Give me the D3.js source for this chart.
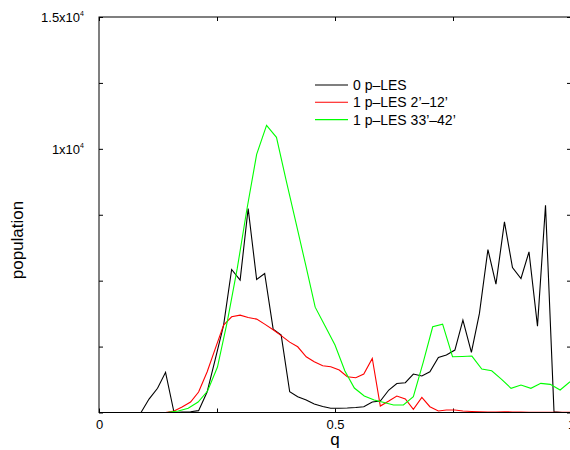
<!DOCTYPE html>
<html>
<head>
<meta charset="utf-8">
<script src="https://cdn.jsdelivr.net/npm/d3@7"></script>
<style>
    body { margin: 0; background: #fff; }
    svg text { font-family: "Liberation Sans", Arial, sans-serif; }
</style>
</head>
<body>
<div id="chart"></div>
<script>

// q bins shared by the 0 p-LES and 1 p-LES 2'-12' runs
const qBins = [0.001, 0.019, 0.036, 0.054, 0.071, 0.089, 0.106, 0.124, 0.141, 0.159,
    0.176, 0.194, 0.211, 0.229, 0.246, 0.264, 0.281, 0.299, 0.316, 0.334,
    0.351, 0.369, 0.386, 0.404, 0.421, 0.439, 0.456, 0.474, 0.491, 0.509,
    0.526, 0.544, 0.561, 0.579, 0.596, 0.614, 0.631, 0.649, 0.666, 0.684,
    0.701, 0.719, 0.736, 0.754, 0.771, 0.789, 0.806, 0.824, 0.841, 0.859,
    0.876, 0.894, 0.911, 0.929, 0.946, 0.964, 0.981, 0.999];

const pop0 = [0, 0, 0, 0, 0, 0, 510, 917, 1523, 0,
    20, 30, 70, 777, 2000, 3314, 5424, 5019, 7735, 5045,
    5273, 3163, 2936, 788, 598, 473, 322, 227, 159, 159,
    170, 189, 220, 398, 436, 852, 1098, 1129, 1458, 1383,
    1545, 2091, 2178, 2367, 3504, 2280, 3758, 6182, 4867, 7227,
    5500, 5083, 6091, 3277, 7860, 30, 0, 0];

const pop2to12 = [0, 0, 0, 0, 0, 0, 0, 0, 0, 60,
    208, 398, 777, 1534, 2405, 3314, 3629, 3693, 3606, 3542,
    3352, 3136, 2917, 2670, 2492, 2114, 1924, 1773, 1735, 1610,
    1356, 1318, 1458, 2053, 246, 436, 625, 511, 121, 576,
    220, 57, 95, 95, 57, 40, 30, 20, 20, 30,
    20, 20, 10, 10, 10, 10, 10, 10];

// the 33'-42' run uses coarser bins
const qGreen = [0.002, 0.023, 0.044, 0.064, 0.085, 0.106, 0.127, 0.147, 0.168, 0.189,
    0.210, 0.230, 0.251, 0.272, 0.293, 0.313, 0.334, 0.355, 0.376, 0.396,
    0.417, 0.438, 0.458, 0.479, 0.500, 0.521, 0.541, 0.562, 0.583, 0.604,
    0.624, 0.645, 0.666, 0.687, 0.707, 0.728, 0.749, 0.770, 0.790, 0.811,
    0.832, 0.853, 0.873, 0.894, 0.915, 0.936, 0.956, 0.977, 0.998];

const pop33to42 = [0, 0, 0, 0, 0, 0, 0, 10, 57, 159,
    398, 814, 1723, 3466, 5473, 7670, 9792, 10890, 10436, 8845,
    7216, 5587, 3996, 3277, 2557, 1572, 928, 625, 473, 379,
    284, 284, 598, 1913, 3250, 3352, 2114, 2125, 2140, 1648,
    1583, 1258, 917, 1042, 917, 1106, 1068, 852, 1167];

const seriesNames = ["0 p\u2013LES", "1 p\u2013LES 2\u2019\u201312\u2019", "1 p\u2013LES 33\u2019\u201342\u2019"];
const seriesColors = ["#000000", "#ff0000", "#00ff00"];

const xTicks = [0, 0.25, 0.5, 0.75, 1];
const xTickLabels = {0: "0", 0.5: "0.5", 1: "1"};
const yTicks = [0, 2500, 5000, 7500, 10000, 12500, 15000];
const yTickLabels = {10000: ["1x10", "4"], 15000: ["1.5x10", "4"]};


class PopulationVis {

    constructor(parentElement) {
        this.parentElement = parentElement;
        this.initVis();
    }

    initVis() {
        let vis = this;

        vis.width = 570;
        vis.height = 450;
        vis.left = 99;
        vis.right = 571;
        vis.top = 17;
        vis.bottom = 412.5;

        vis.svg = d3.select("#" + vis.parentElement)
            .append("svg")
            .attr("width", vis.width)
            .attr("height", vis.height);

        // scales
        vis.x = d3.scaleLinear().domain([0, 1]).range([vis.left, vis.right]);
        vis.y = d3.scaleLinear().domain([0, 15000]).range([vis.bottom, vis.top]);

        vis.wrangleData();
    }

    wrangleData() {
        let vis = this;

        // pair q with population for each run
        vis.series = [
            qBins.map((q, i) => [q, pop0[i]]),
            qBins.map((q, i) => [q, pop2to12[i]]),
            qGreen.map((q, i) => [q, pop33to42[i]])
        ];

        vis.updateVis();
    }

    updateVis() {
        let vis = this;

        // bottom + top ticks (inward)
        let xAxisBottom = d3.axisBottom(vis.x).tickValues(xTicks)
            .tickSizeInner(-4).tickSizeOuter(0).tickPadding(7)
            .tickFormat(d => xTickLabels[d] !== undefined ? xTickLabels[d] : "");
        let xAxisTop = d3.axisTop(vis.x).tickValues(xTicks)
            .tickSizeInner(-4).tickSizeOuter(0).tickFormat("");

        vis.svg.append("g")
            .attr("class", "x-axis")
            .attr("transform", `translate(0,${vis.bottom})`)
            .call(xAxisBottom);

        vis.svg.append("g")
            .attr("transform", `translate(0,${vis.top})`)
            .call(xAxisTop);

        // left + right ticks (inward)
        let yAxisLeft = d3.axisLeft(vis.y).tickValues(yTicks)
            .tickSizeInner(-4).tickSizeOuter(0).tickFormat("");
        let yAxisRight = d3.axisRight(vis.y).tickValues(yTicks)
            .tickSizeInner(-4).tickSizeOuter(0).tickFormat("");

        vis.svg.append("g")
            .attr("transform", `translate(${vis.left},0)`)
            .call(yAxisLeft);

        vis.svg.append("g")
            .attr("transform", `translate(${vis.right},0)`)
            .call(yAxisRight);

        vis.svg.selectAll(".domain").remove();
        vis.svg.selectAll(".tick line").attr("stroke", "#000");

        vis.svg.select(".x-axis").selectAll("text")
            .attr("font-size", "13px")
            .attr("fill", "#000")
            .attr("font-family", "Liberation Sans, Arial, sans-serif");

        // y tick labels with superscript exponent
        let yLabels = vis.svg.append("g")
            .selectAll(".y-label")
            .data(Object.keys(yTickLabels).map(Number))
            .join("text")
            .attr("class", "y-label")
            .attr("x", vis.left - 15)
            .attr("y", d => vis.y(d) + 5)
            .attr("text-anchor", "end")
            .attr("font-size", "13px");

        yLabels.append("tspan").text(d => yTickLabels[d][0]);
        yLabels.append("tspan")
            .attr("font-size", "7px")
            .attr("dy", -6)
            .text(d => yTickLabels[d][1]);

        // data lines
        let line = d3.line()
            .x(d => vis.x(d[0]))
            .y(d => vis.y(d[1]));

        vis.svg.append("g")
            .selectAll(".run")
            .data(vis.series)
            .join("path")
            .attr("class", "run")
            .attr("d", line)
            .attr("fill", "none")
            .attr("stroke", (d, i) => seriesColors[i])
            .attr("stroke-width", 1.1);

        // border
        vis.svg.append("rect")
            .attr("x", vis.left)
            .attr("y", vis.top)
            .attr("width", vis.right - vis.left)
            .attr("height", vis.bottom - vis.top)
            .attr("fill", "none")
            .attr("stroke", "#000")
            .attr("stroke-width", 1);

        // axis titles
        vis.svg.append("text")
            .attr("x", vis.x(0.5))
            .attr("y", 445)
            .attr("text-anchor", "middle")
            .attr("font-size", "17px")
            .text("q");

        vis.svg.append("text")
            .attr("transform", "translate(23,240) rotate(-90)")
            .attr("text-anchor", "middle")
            .attr("font-size", "17px")
            .text("population");

        // legend
        let legend = vis.svg.append("g")
            .selectAll(".legend-row")
            .data(seriesNames)
            .join("g")
            .attr("class", "legend-row")
            .attr("transform", (d, i) => `translate(0,${85 + i * 17.3})`);

        legend.append("line")
            .attr("x1", 315)
            .attr("x2", 348)
            .attr("stroke", (d, i) => seriesColors[i])
            .attr("stroke-width", 1.1);

        legend.append("text")
            .attr("x", 353)
            .attr("y", 5)
            .attr("font-size", "14px")
            .text(d => d);
    }
}

new PopulationVis("chart");

</script>
</body>
</html>
